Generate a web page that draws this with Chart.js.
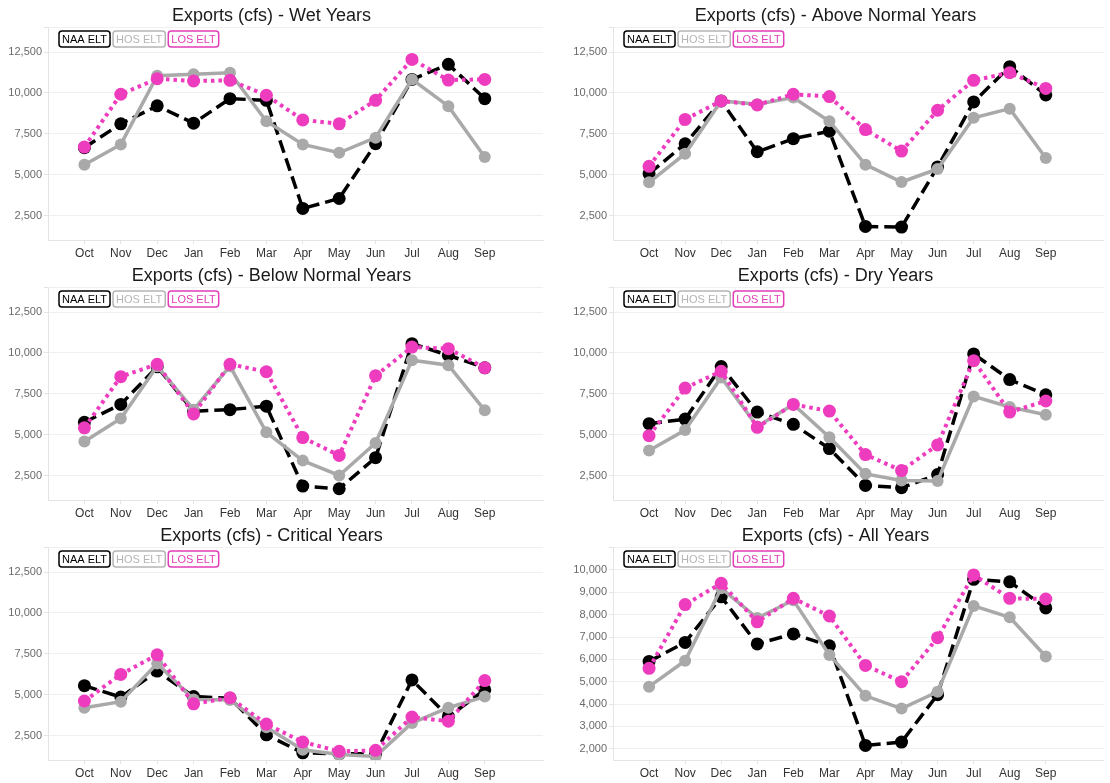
<!DOCTYPE html>
<html>
<head>
<meta charset="utf-8">
<script src="https://cdn.jsdelivr.net/npm/chart.js@4.4.1/dist/chart.umd.min.js"></script>
<style>
  body { margin: 0; background: #fff; }
  .panel { position: absolute; height: 260px; }
</style>
</head>
<body>
<div class="panel" style="left:0;top:0;width:555px"><canvas id="wet"></canvas></div>
<div class="panel" style="left:565px;top:0;width:545px"><canvas id="above"></canvas></div>
<div class="panel" style="left:0;top:260px;width:555px"><canvas id="below"></canvas></div>
<div class="panel" style="left:565px;top:260px;width:545px"><canvas id="dry"></canvas></div>
<div class="panel" style="left:0;top:520px;width:555px"><canvas id="critical"></canvas></div>
<div class="panel" style="left:565px;top:520px;width:545px"><canvas id="all"></canvas></div>
<script>
const months = ['Oct', 'Nov', 'Dec', 'Jan', 'Feb', 'Mar', 'Apr', 'May', 'Jun', 'Jul', 'Aug', 'Sep'];
const seriesNames = ['NAA ELT', 'HOS ELT', 'LOS ELT'];

const wetNAA = [6650, 8110, 9210, 8150, 9650, 9550, 2930, 3540, 6890, 10830, 11750, 9650];
const wetHOS = [5610, 6850, 11060, 11140, 11240, 8270, 6850, 6340, 7260, 10830, 9190, 6080];
const wetLOS = [6690, 9920, 10870, 10730, 10770, 9860, 8350, 8110, 9550, 12050, 10790, 10830];

const aboveNAA = [5060, 6890, 9510, 6400, 7200, 7660, 1830, 1790, 5470, 9450, 11610, 9880];
const aboveHOS = [4530, 6280, 9510, 9310, 9720, 8270, 5610, 4550, 5350, 8480, 9040, 6020];
const aboveLOS = [5510, 8380, 9510, 9270, 9920, 9780, 7760, 6440, 8940, 10770, 11240, 10280];

const belowNAA = [5760, 6850, 9150, 6430, 6530, 6740, 1850, 1690, 3590, 10570, 9860, 9090];
const belowHOS = [4580, 5990, 9190, 6530, 9190, 5140, 3410, 2500, 4490, 9560, 9250, 6490];
const belowLOS = [5420, 8550, 9310, 6270, 9310, 8850, 4820, 3730, 8610, 10360, 10260, 9090];

const dryNAA = [5670, 5950, 9170, 6380, 5630, 4150, 1890, 1750, 2560, 9940, 8370, 7440];
const dryHOS = [4030, 5280, 8500, 5500, 6850, 4840, 2600, 2200, 2160, 7340, 6690, 6220];
const dryLOS = [4940, 7850, 8880, 5450, 6850, 6440, 3780, 2800, 4370, 9530, 6380, 7060];

const criticalNAA = [5550, 4850, 6440, 4880, 4780, 2540, 1440, 1380, 1380, 5900, 3650, 5290];
const criticalHOS = [4200, 4570, 6900, 4710, 4670, 3000, 1630, 1330, 1220, 3260, 4200, 4880];
const criticalLOS = [4610, 6240, 7440, 4440, 4810, 3200, 2100, 1530, 1590, 3630, 3370, 5860];

const allNAA = [5910, 6760, 8800, 6690, 7140, 6610, 2150, 2300, 4420, 9580, 9470, 8300];
const allHOS = [4780, 5940, 9180, 7850, 8650, 6200, 4370, 3800, 4550, 8390, 7880, 6130];
const allLOS = [5600, 8450, 9400, 7680, 8730, 7940, 5730, 5000, 6970, 9780, 8730, 8700];

const yTicksTypes = [2500, 5000, 7500, 10000, 12500];
const yTicksAll = [2000, 3000, 4000, 5000, 6000, 7000, 8000, 9000, 10000];

const FONT = '"Liberation Sans", Arial, Helvetica, sans-serif';

// legend drawn as outlined text boxes inside the plot, top-left
const boxLegend = {
  id: 'boxLegend',
  afterDraw(chart) {
    const ctx = chart.ctx;
    const area = chart.chartArea;
    let x = area.left + 11;
    const y = area.top + 3.5;
    const h = 16;
    ctx.save();
    ctx.font = '11px ' + FONT;
    ctx.textBaseline = 'middle';
    chart.data.datasets.forEach(ds => {
      const w = ctx.measureText(ds.label).width + 6;
      ctx.beginPath();
      ctx.roundRect(x, y, w, h, 3);
      ctx.fillStyle = '#fff';
      ctx.fill();
      ctx.lineWidth = 1.5;
      ctx.strokeStyle = ds.legendColor;
      ctx.stroke();
      ctx.fillStyle = ds.legendColor;
      ctx.fillText(ds.label, x + 3, y + h / 2 + 0.5);
      x += w + 3;
    });
    ctx.restore();
  }
};

function panel(id, title, naa, hos, los, yMin, yMax, yTicks, padRight) {
  const pts = arr => arr.map((v, i) => ({ x: i, y: v }));
  const data = {
    datasets: [
      {
        label: seriesNames[0], data: pts(naa), order: 3,
        borderColor: '#000', backgroundColor: '#000', legendColor: '#000',
        borderWidth: 3.5, borderDash: [13, 6], pointRadius: 6.5, pointBorderWidth: 0
      },
      {
        label: seriesNames[1], data: pts(hos), order: 2,
        borderColor: '#a9a9a9', backgroundColor: '#a9a9a9', legendColor: '#b5b5b5',
        borderWidth: 3.5, pointRadius: 6, pointBorderWidth: 0
      },
      {
        label: seriesNames[2], data: pts(los), order: 1,
        borderColor: '#ee3cbf', backgroundColor: '#ee3cbf', legendColor: '#e23db8',
        borderWidth: 4, borderDash: [3.5, 4], pointRadius: 6.5, pointBorderWidth: 0
      }
    ]
  };

  new Chart(document.getElementById(id), {
    type: 'line',
    data: data,
    plugins: [boxLegend],
    options: {
      animation: false,
      responsive: true,
      maintainAspectRatio: false,
      devicePixelRatio: 1,
      layout: { padding: { left: 0, right: padRight, top: 0, bottom: 0 } },
      plugins: {
        legend: { display: false },
        tooltip: { enabled: false },
        title: {
          display: true, text: title, color: '#1a1a1a',
          font: { family: FONT, size: 18, weight: 'normal' },
          padding: { top: 5, bottom: 1 }
        }
      },
      scales: {
        x: {
          type: 'linear', min: -1, max: 12.6,
          afterBuildTicks: s => { s.ticks = months.map((m, i) => ({ value: i })); },
          afterFit: s => { s.height = 20; },
          ticks: {
            color: '#333', padding: 2, maxRotation: 0, autoSkip: false,
            font: { family: FONT, size: 12 },
            callback: v => months[v] ?? ''
          },
          grid: { drawOnChartArea: false, drawTicks: true, tickLength: 4, color: '#e4e4e4' },
          border: { color: '#e4e4e4' }
        },
        y: {
          min: yMin, max: yMax,
          afterBuildTicks: s => { s.ticks = yTicks.concat([yMax]).map(v => ({ value: v })); },
          afterFit: s => { s.width = 48; },
          ticks: {
            color: '#6a6a6a', padding: 2,
            font: { family: FONT, size: 11 },
            callback: v => yTicks.includes(v) ? v.toLocaleString('en-US') : ''
          },
          grid: { color: '#f0f0f0', tickLength: 4, tickColor: '#e4e4e4' },
          border: { color: '#e4e4e4' }
        }
      }
    }
  });
}

panel('wet', 'Exports (cfs) - Wet Years', wetNAA, wetHOS, wetLOS, 1000, 14000, yTicksTypes, 12);
panel('above', 'Exports (cfs) - Above Normal Years', aboveNAA, aboveHOS, aboveLOS, 1000, 14000, yTicksTypes, 4);
panel('below', 'Exports (cfs) - Below Normal Years', belowNAA, belowHOS, belowLOS, 1000, 14000, yTicksTypes, 12);
panel('dry', 'Exports (cfs) - Dry Years', dryNAA, dryHOS, dryLOS, 1000, 14000, yTicksTypes, 4);
panel('critical', 'Exports (cfs) - Critical Years', criticalNAA, criticalHOS, criticalLOS, 1000, 14000, yTicksTypes, 12);
panel('all', 'Exports (cfs) - All Years', allNAA, allHOS, allLOS, 1500, 11000, yTicksAll, 4);
</script>
</body>
</html>
